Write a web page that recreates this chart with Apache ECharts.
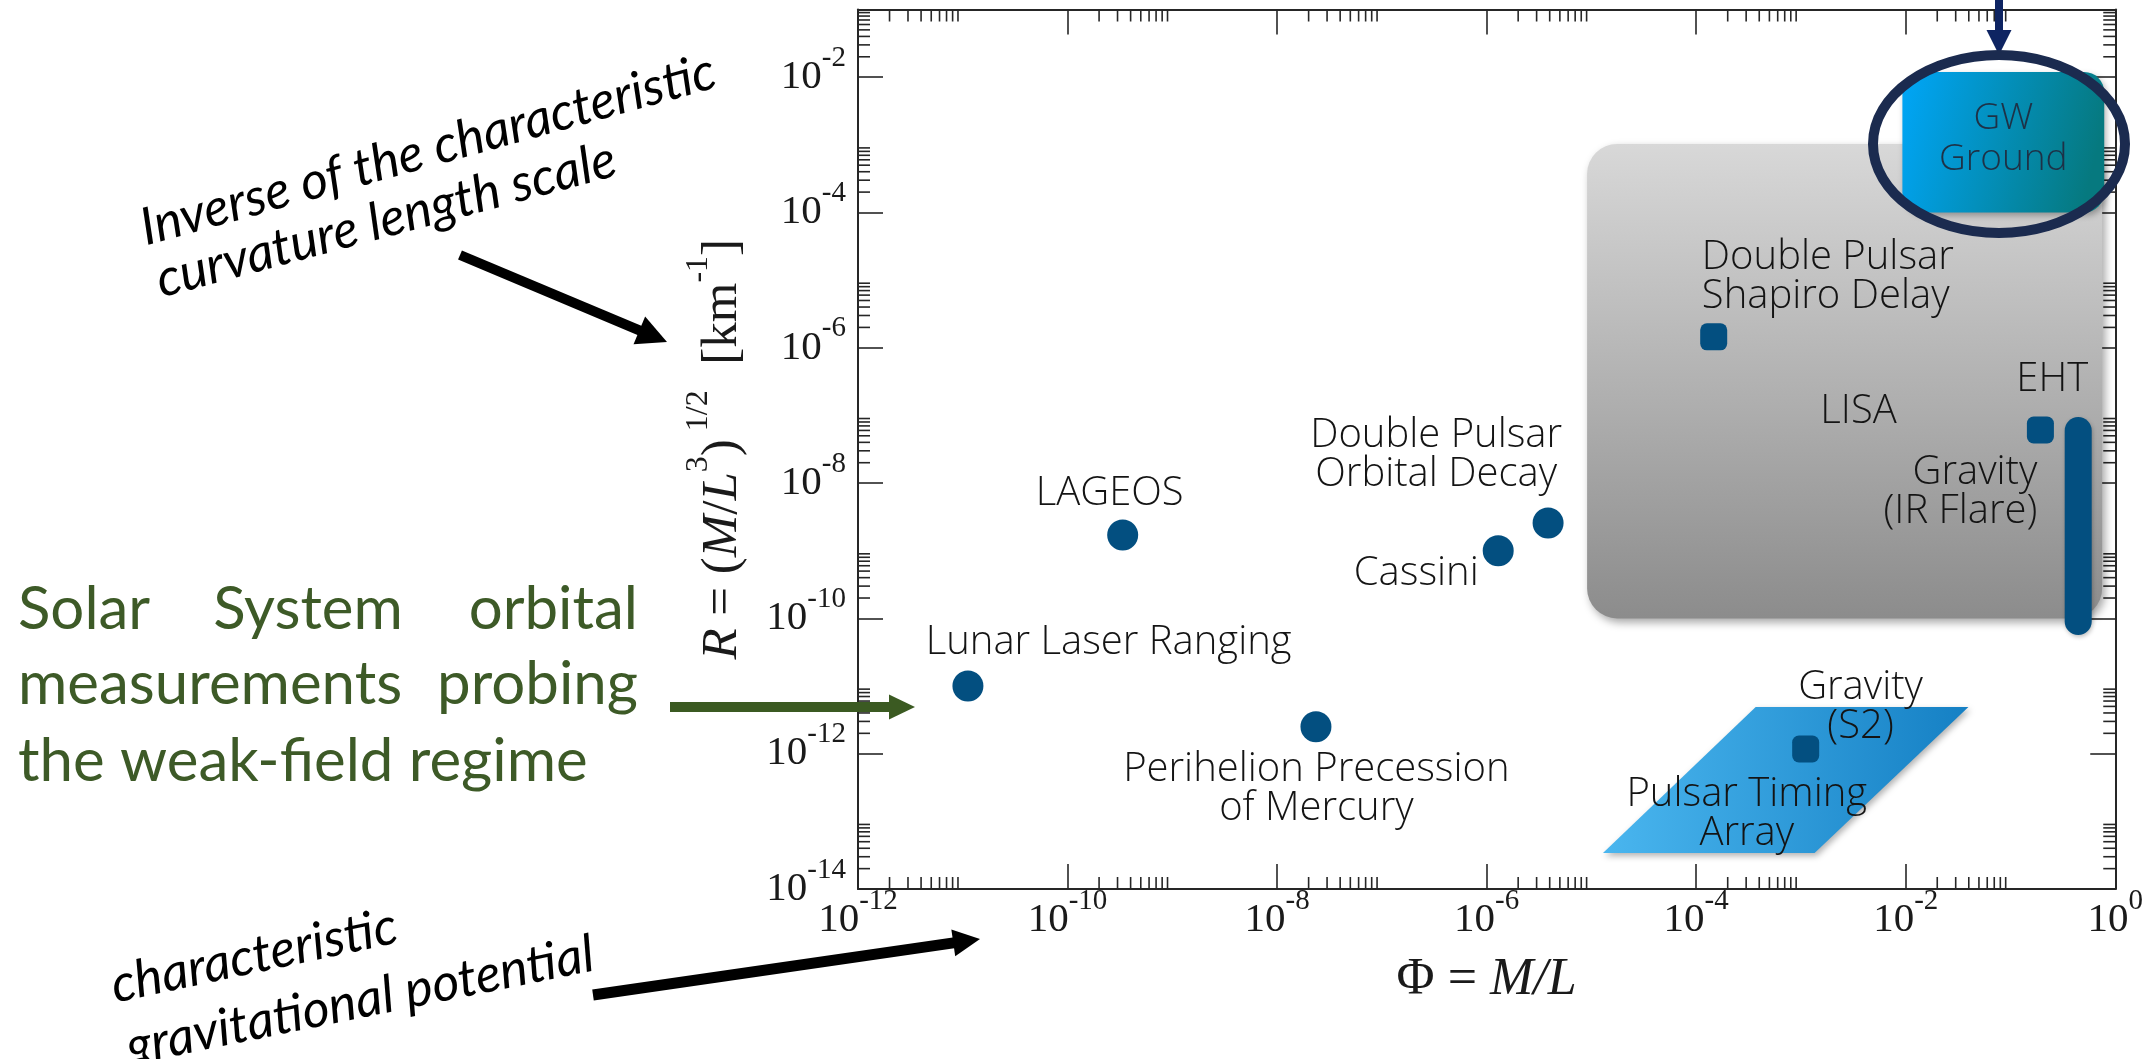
<!DOCTYPE html>
<html><head><meta charset="utf-8">
<script src="https://cdn.jsdelivr.net/npm/echarts@6/dist/echarts.min.js"></script>
<style>html,body{margin:0;padding:0;background:#fff}#c{width:2146px;height:1059px}</style>
</head><body><div id="c"></div><script>
// ---------------- data ----------------
const circleNames = ['Lunar Laser Ranging', 'LAGEOS', 'Perihelion Precession of Mercury', 'Cassini', 'Double Pulsar Orbital Decay'];
const circlePhi = [1.12e-11, 3.36e-10, 2.35e-8, 1.29e-6, 3.86e-6];
const circleR = [1.0e-11, 1.71e-9, 2.5e-12, 1.0e-9, 2.57e-9];

const squareNames = ['Double Pulsar Shapiro Delay', 'EHT', 'Gravity (S2)'];
const squarePhi = [1.47e-4, 0.193, 1.11e-3];
const squareR = [1.45e-6, 6.1e-8, 1.17e-12];

const irFlarePhi = [0.443, 0.443];
const irFlareR = [9.0e-11, 6.0e-8];

const lisaBoxPhi = [9.1e-6, 0.75];
const lisaBoxR = [1.0e-10, 1.03e-3];

const gwGroundPhi = [9.3e-3, 0.785];
const gwGroundR = [1.0e-4, 0.0119];

const ptaPhi = [3.70e-4, 0.0397, 1.35e-3, 1.29e-5];
const ptaR = [4.9e-12, 4.9e-12, 3.4e-14, 3.4e-14];

const xMajorExponents = [-12, -10, -8, -6, -4, -2];
const yMajorExponents = [-14, -12, -10, -8, -6, -4, -2];
const minorMantissas = [2, 3, 4, 5, 6, 7, 8, 9];

const annotationTexts = ['Lunar Laser Ranging', 'LAGEOS', 'Perihelion Precession\nof Mercury', 'Double Pulsar\nOrbital Decay', 'Cassini', 'Double Pulsar\nShapiro Delay', 'LISA', 'EHT', 'Gravity\n(IR Flare)', 'Gravity\n(S2)', 'Pulsar Timing\nArray', 'GW\nGround'];
const annotationLogPhi = [-9.608, -9.598, -7.625, -6.482, -6.672, -3.946, -2.450, -0.601, -0.744, -2.431, -3.517, -1.068];
const annotationLogR = [-10.364, -8.161, -12.522, -7.585, -9.344, -4.953, -6.949, -6.476, -8.132, -11.310, -12.891, -2.914];
const annotationAlign = ['center', 'center', 'center', 'center', 'center', 'left', 'center', 'center', 'right', 'center', 'center', 'center'];

// ---------------- chart ----------------
const L = Math.log10;
const AX = '#262626';
const SERIF = "'Liberation Serif','DejaVu Serif',serif";
const SANS = "'Open Sans','Lato',sans-serif";
const MARK = '#034f80';

const chart = echarts.init(document.getElementById('c'), null, {renderer: 'canvas'});

const tickRich = {
  b: {fontFamily: SERIF, fontSize: 41, lineHeight: 41, color: '#1a1a1a', verticalAlign: 'bottom'},
  s: {fontFamily: SERIF, fontSize: 29, lineHeight: 29, color: '#1a1a1a', verticalAlign: 'bottom', padding: [0, 0, 25, 0]}
};
function tickLabel(v) {
  return (Math.abs(v % 2) === 0) ? '{b|10}{s|' + v + '}' : '';
}
const axisLineStyle = {show: true, onZero: false, lineStyle: {color: AX, width: 2}};
const axisTickStyle = {show: true, inside: true, length: 25, lineStyle: {color: AX, width: 1.6}};

const xMinor = [];
xMajorExponents.forEach(e => minorMantissas.forEach(m => xMinor.push([e + L(m), -14])));
const yMinor = [];
yMajorExponents.forEach(e => minorMantissas.forEach(m => yMinor.push([-12, e + L(m)])));

function boxRenderer(radius, fill, shadow) {
  return function (params, api) {
    const p0 = api.coord([api.value(0), api.value(1)]);
    const p1 = api.coord([api.value(2), api.value(3)]);
    return {
      type: 'rect',
      shape: {x: Math.min(p0[0], p1[0]), y: Math.min(p0[1], p1[1]), width: Math.abs(p1[0] - p0[0]), height: Math.abs(p1[1] - p0[1]), r: radius},
      style: Object.assign({fill: fill}, shadow)
    };
  };
}

const grayGrad = new echarts.graphic.LinearGradient(0, 0, 0, 1, [{offset: 0, color: '#d8d8d8'}, {offset: 1, color: '#8c8c8c'}]);
const gwGrad = new echarts.graphic.LinearGradient(0, 0, 1, 0.35, [{offset: 0, color: '#00a6f8'}, {offset: 1, color: '#06797f'}]);
const ptaGrad = new echarts.graphic.LinearGradient(0, 0, 1, 0, [{offset: 0, color: '#4ab6ef'}, {offset: 1, color: '#1580c4'}]);

const option = {
  animation: false,
  backgroundColor: '#ffffff',
  grid: {left: 858, right: 29, top: 9.5, bottom: 170, containLabel: false},
  xAxis: [
    {
      type: 'value', min: -12, max: 0, interval: 2, position: 'bottom',
      name: '{r|Φ = }{i|M/L}', nameLocation: 'middle', nameGap: 63,
      nameTextStyle: {rich: {
        r: {fontFamily: SERIF, fontSize: 52, lineHeight: 56, color: '#1a1a1a'},
        i: {fontFamily: SERIF, fontSize: 52, lineHeight: 56, fontStyle: 'italic', color: '#1a1a1a'}
      }},
      axisLine: axisLineStyle, axisTick: axisTickStyle, splitLine: {show: false},
      axisLabel: {formatter: tickLabel, rich: tickRich, margin: 11, showMaxLabel: true}
    },
    {
      type: 'value', min: -12, max: 0, interval: 2, position: 'top',
      axisLine: axisLineStyle, axisTick: axisTickStyle, splitLine: {show: false}, axisLabel: {show: false}
    }
  ],
  yAxis: [
    {
      type: 'value', min: -14, max: -1, interval: 2, position: 'left',
      name: '{i|R}{r| = (}{i|M}{r|/}{i|L}{s|3}{r|)}{s| 1/2}{r|  [km}{s|-1}{r|]}',
      nameLocation: 'middle', nameRotate: 90, nameGap: 110,
      nameTextStyle: {rich: {
        r: {fontFamily: SERIF, fontSize: 51, lineHeight: 51, color: '#1a1a1a', verticalAlign: 'bottom'},
        i: {fontFamily: SERIF, fontSize: 51, lineHeight: 51, fontStyle: 'italic', color: '#1a1a1a', verticalAlign: 'bottom'},
        s: {fontFamily: SERIF, fontSize: 32, lineHeight: 32, color: '#1a1a1a', verticalAlign: 'bottom', padding: [0, 0, 33, 0]}
      }},
      axisLine: axisLineStyle, axisTick: axisTickStyle, splitLine: {show: false},
      axisLabel: {formatter: tickLabel, rich: tickRich, margin: 12, showMaxLabel: false}
    },
    {
      type: 'value', min: -14, max: -1, interval: 2, position: 'right',
      axisLine: axisLineStyle, axisTick: axisTickStyle, splitLine: {show: false}, axisLabel: {show: false}
    }
  ],
  series: [
    {
      type: 'custom', name: 'x minor ticks', z: 1, silent: true, clip: false,
      data: xMinor,
      renderItem: function (params, api) {
        const v = api.value(0);
        const b = api.coord([v, -14]), t = api.coord([v, -1]);
        return {type: 'group', children: [
          {type: 'line', shape: {x1: b[0], y1: b[1], x2: b[0], y2: b[1] - 12}, style: {stroke: AX, lineWidth: 1.6}},
          {type: 'line', shape: {x1: t[0], y1: t[1], x2: t[0], y2: t[1] + 12}, style: {stroke: AX, lineWidth: 1.6}}
        ]};
      }
    },
    {
      type: 'custom', name: 'y minor ticks', z: 1, silent: true, clip: false,
      data: yMinor,
      renderItem: function (params, api) {
        const v = api.value(1);
        const l = api.coord([-12, v]), r = api.coord([0, v]);
        return {type: 'group', children: [
          {type: 'line', shape: {x1: l[0], y1: l[1], x2: l[0] + 12, y2: l[1]}, style: {stroke: AX, lineWidth: 1.6}},
          {type: 'line', shape: {x1: r[0], y1: r[1], x2: r[0] - 12, y2: r[1]}, style: {stroke: AX, lineWidth: 1.6}}
        ]};
      }
    },
    {
      type: 'custom', name: 'LISA region', z: 2, silent: true,
      encode: {x: [0, 2], y: [1, 3]},
      data: [[L(lisaBoxPhi[0]), L(lisaBoxR[0]), L(lisaBoxPhi[1]), L(lisaBoxR[1])]],
      renderItem: boxRenderer(30, grayGrad, {shadowBlur: 8, shadowOffsetX: 3, shadowOffsetY: 4, shadowColor: 'rgba(0,0,0,0.35)'})
    },
    {
      type: 'custom', name: 'GW Ground', z: 3, silent: true,
      encode: {x: [0, 2], y: [1, 3]},
      data: [[L(gwGroundPhi[0]), L(gwGroundR[0]), L(gwGroundPhi[1]), L(gwGroundR[1])]],
      renderItem: boxRenderer(20, gwGrad, {shadowBlur: 6, shadowOffsetX: 2, shadowOffsetY: 3, shadowColor: 'rgba(0,0,0,0.3)'})
    },
    {
      type: 'custom', name: 'Pulsar Timing Array', z: 3, silent: true,
      data: ptaPhi.map((p, i) => [L(p), L(ptaR[i])]),
      renderItem: function (params, api) {
        if (params.dataIndex !== 0) return null;
        const pts = ptaPhi.map((p, i) => api.coord([L(p), L(ptaR[i])]));
        return {type: 'polygon', shape: {points: pts},
          style: {fill: ptaGrad, shadowBlur: 6, shadowOffsetX: 2, shadowOffsetY: 3, shadowColor: 'rgba(0,0,0,0.3)'}};
      }
    },
    {
      type: 'custom', name: 'Gravity (IR Flare)', z: 4, silent: true,
      encode: {x: [0, 2], y: [1, 3]},
      data: [[L(irFlarePhi[0]), L(irFlareR[0]), L(irFlarePhi[1]), L(irFlareR[1])]],
      renderItem: function (params, api) {
        const a = api.coord([api.value(0), api.value(1)]);
        const b = api.coord([api.value(2), api.value(3)]);
        return {type: 'line', shape: {x1: a[0], y1: a[1], x2: b[0], y2: b[1]},
          style: {stroke: MARK, lineWidth: 27, lineCap: 'round', shadowBlur: 4, shadowOffsetX: 1, shadowOffsetY: 2, shadowColor: 'rgba(0,0,0,0.25)'}};
      }
    },
    {
      type: 'scatter', name: 'orbital tests', z: 5, silent: true,
      symbol: 'circle', symbolSize: 31, itemStyle: {color: MARK, opacity: 1},
      data: circlePhi.map((p, i) => ({name: circleNames[i], value: [L(p), L(circleR[i])]}))
    },
    {
      type: 'scatter', name: 'strong-field tests', z: 5, silent: true,
      symbol: 'roundRect', symbolSize: 27, itemStyle: {color: MARK, opacity: 1},
      data: squarePhi.map((p, i) => ({name: squareNames[i], value: [L(p), L(squareR[i])]}))
    },
    {
      type: 'custom', name: 'labels', z: 6, silent: true, clip: false,
      data: annotationTexts.map((t, i) => [annotationLogPhi[i], annotationLogR[i], i]),
      renderItem: function (params, api) {
        const i = params.dataIndex;
        const p = api.coord([api.value(0), api.value(1)]);
        const isGW = annotationTexts[i].indexOf('GW') === 0;
        return {type: 'text', x: p[0], y: p[1], style: {
          text: annotationTexts[i], fill: isGW ? '#1e3146' : '#141414',
          fontFamily: SANS, fontSize: isGW ? 37 : 40, fontWeight: 300,
          lineHeight: isGW ? 41 : 39,
          align: annotationAlign[i], verticalAlign: 'middle'
        }};
      }
    }
  ]
};

// -------- outside annotations (arrows, ellipse, explanatory text) --------
function arrow(x0, y0, x1, y1, w, headLen, headW, color, z) {
  const dx = x1 - x0, dy = y1 - y0, len = Math.hypot(dx, dy);
  const ux = dx / len, uy = dy / len, px = -uy, py = ux;
  const bx = x1 - ux * headLen, by = y1 - uy * headLen;
  return [
    {type: 'line', z: z, shape: {x1: x0, y1: y0, x2: bx + ux * 2, y2: by + uy * 2}, style: {stroke: color, lineWidth: w}},
    {type: 'polygon', z: z, shape: {points: [[x1, y1], [bx + px * headW / 2, by + py * headW / 2], [bx - px * headW / 2, by - py * headW / 2]]}, style: {fill: color}}
  ];
}
const deg = Math.PI / 180;
const GREEN = '#3d5a27';
const italic = {fontFamily: "'Lato','Open Sans',sans-serif", fontStyle: 'italic', fontSize: 52, fill: '#000', align: 'center', verticalAlign: 'middle'};
const green = {fontFamily: "'Lato','Open Sans',sans-serif", fontSize: 60, fill: GREEN, verticalAlign: 'middle'};

option.graphic = [
  {type: 'text', x: 428, y: 150, rotation: 15.5 * deg, style: Object.assign({text: 'Inverse of the characteristic'}, italic)},
  {type: 'text', x: 386, y: 220, rotation: 15 * deg, style: Object.assign({text: 'curvature length scale'}, italic)},
  {type: 'text', x: 254, y: 956, rotation: 12 * deg, style: Object.assign({text: 'characteristic'}, italic)},
  {type: 'text', x: 360, y: 1001, rotation: 11.5 * deg, style: Object.assign({text: 'gravitational potential'}, italic)},
  {type: 'text', x: 18, y: 610, style: Object.assign({text: 'Solar', align: 'left'}, green)},
  {type: 'text', x: 308, y: 610, style: Object.assign({text: 'System', align: 'center'}, green)},
  {type: 'text', x: 638, y: 610, style: Object.assign({text: 'orbital', align: 'right'}, green)},
  {type: 'text', x: 18, y: 685, style: Object.assign({text: 'measurements', align: 'left'}, green)},
  {type: 'text', x: 638, y: 685, style: Object.assign({text: 'probing', align: 'right'}, green)},
  {type: 'text', x: 18, y: 762, style: Object.assign({text: 'the weak-field regime', align: 'left'}, green)},
  ...arrow(460, 255, 667, 342, 10, 30, 30, '#000', 50),
  ...arrow(593, 995, 980, 939, 11, 27, 27, '#000', 50),
  ...arrow(670, 707, 915, 707, 10, 26, 25, '#3b5a22', 50),
  ...arrow(1999, -2, 1999, 55, 8, 25, 25, '#0e2462', 60),
  {type: 'ellipse', z: 60, shape: {cx: 1999, cy: 144, rx: 126, ry: 89}, style: {fill: null, stroke: '#1b2b4f', lineWidth: 10}}
];

chart.setOption(option);
</script></body></html>
